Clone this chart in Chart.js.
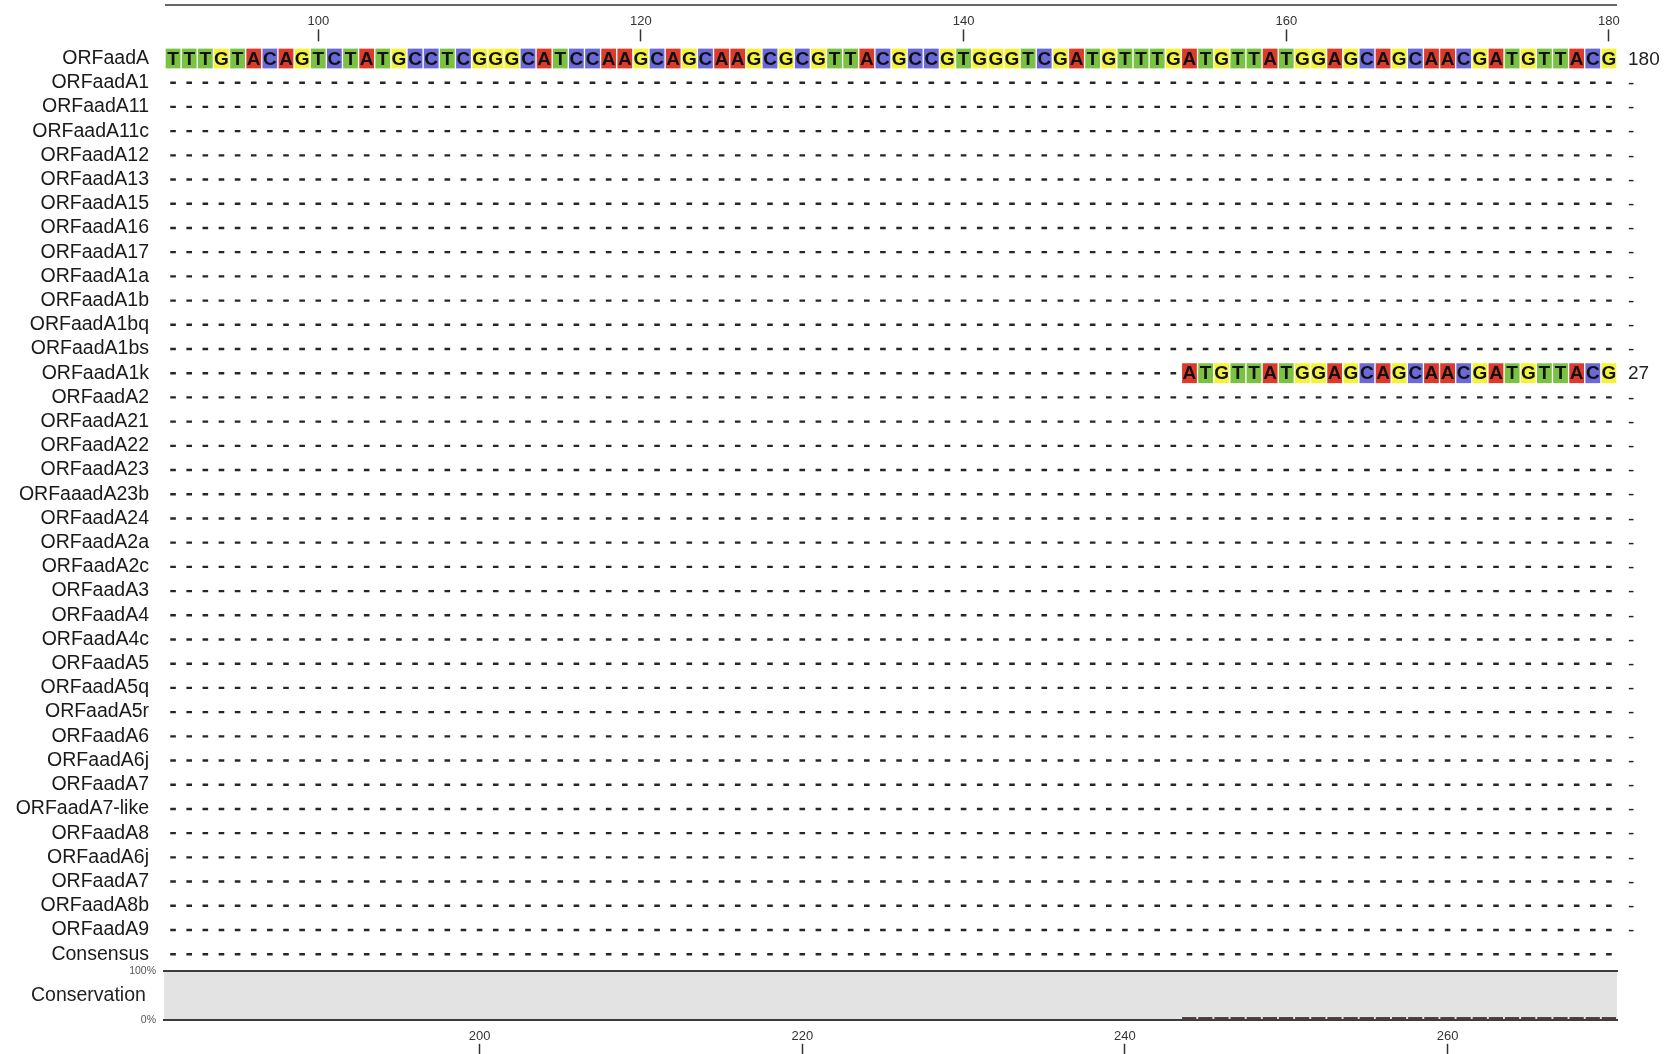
<!DOCTYPE html>
<html>
<head>
<meta charset="utf-8">
<title>ORFaadA alignment</title>
<script src="https://cdn.jsdelivr.net/npm/chart.js@4.4.1/dist/chart.umd.min.js"></script>
<style>
  body { margin: 0; background: #fff; width: 1671px; height: 1054px; overflow: hidden; position: relative; }
  canvas { position: absolute; left: 0; }
</style>
</head>
<body>
<canvas id="js--align" width="1671" height="975" style="top:0px"></canvas>
<canvas id="js--cons" width="1671" height="100" style="top:940px"></canvas>
<canvas id="js--axis" width="1671" height="80" style="top:1010px"></canvas>
<script>
// rows of the alignment, top to bottom
const rowNames = [
    "ORFaadA", "ORFaadA1", "ORFaadA11", "ORFaadA11c", "ORFaadA12", "ORFaadA13",
    "ORFaadA15", "ORFaadA16", "ORFaadA17", "ORFaadA1a", "ORFaadA1b", "ORFaadA1bq",
    "ORFaadA1bs", "ORFaadA1k", "ORFaadA2", "ORFaadA21", "ORFaadA22", "ORFaadA23",
    "ORFaaadA23b", "ORFaadA24", "ORFaadA2a", "ORFaadA2c", "ORFaadA3", "ORFaadA4",
    "ORFaadA4c", "ORFaadA5", "ORFaadA5q", "ORFaadA5r", "ORFaadA6", "ORFaadA6j",
    "ORFaadA7", "ORFaadA7-like", "ORFaadA8", "ORFaadA6j", "ORFaadA7", "ORFaadA8b",
    "ORFaadA9", "Consensus"
];

// window of the alignment shown (top ruler) and the next block (bottom ruler)
const firstPos = 91;
const lastPos = 180;
const topTicks = [100, 120, 140, 160, 180];
const bottomTicks = [200, 220, 240, 260];

// the two rows that have residues in this window
const refBases = "TTTGTACAGTCTATGCCTCGGGCATCCAAGCAGCAAGCGCGTTACGCCGTGGGTCGATGTTTGATGTTATGGAGCAGCAACGATGTTACG".split("");
const a1kBases = "ATGTTATGGAGCAGCAACGATGTTACG".split("");
const seqRows = [0, 13];
const seqStarts = [91, 154];
const seqBases = [refBases, a1kBases];

// residue number printed at the end of each row
const endNumbers = [
    "180", "-", "-", "-", "-", "-", "-", "-", "-", "-", "-", "-", "-",
    "27", "-", "-", "-", "-", "-", "-", "-", "-", "-", "-", "-", "-",
    "-", "-", "-", "-", "-", "-", "-", "-", "-", "-", "-"
];

// conservation (%) for positions 91..180
const conservation = [
    0, 0, 0, 0, 0, 0, 0, 0, 0, 0,
    0, 0, 0, 0, 0, 0, 0, 0, 0, 0,
    0, 0, 0, 0, 0, 0, 0, 0, 0, 0,
    0, 0, 0, 0, 0, 0, 0, 0, 0, 0,
    0, 0, 0, 0, 0, 0, 0, 0, 0, 0,
    0, 0, 0, 0, 0, 0, 0, 0, 0, 0,
    0, 0, 0, 6, 6, 6, 6, 6, 6, 6,
    6, 6, 6, 6, 6, 6, 6, 6, 6, 6,
    6, 6, 6, 6, 6, 6, 6, 6, 6, 6
];

Chart.defaults.font.family = "'Liberation Sans', Arial, Helvetica, sans-serif";
Chart.defaults.color = '#222';

const baseColors = { A: '#dc3b2b', C: '#6b69d8', G: '#f4f33a', T: '#7cc242' };

// cells where a row has a residue, a gap dash everywhere else
const cells = [];
const dashes = [];
for (let r = 0; r < rowNames.length; r++) {
    const s = seqRows.indexOf(r);
    for (let p = firstPos; p <= lastPos; p++) {
        if (s >= 0 && p >= seqStarts[s]) {
            cells.push({ x: [p - 0.5, p + 0.5], y: r, base: seqBases[s][p - seqStarts[s]] });
        } else {
            dashes.push({ x: p, y: r });
        }
    }
}

function rulerTicks() {
    return { autoSkip: false, maxRotation: 0, padding: 0, font: { size: 13 }, color: '#333' };
}
function rulerGrid(len) {
    return { drawOnChartArea: false, tickLength: len, tickWidth: 1.5, tickColor: '#333', tickBorderDash: [12, 20] };
}
function noPad(s) {
    s.paddingTop = 0;
    s.paddingBottom = 0;
}

const lettersPlugin = {
    id: 'letters',
    afterDatasetsDraw(chart) {
        const ctx = chart.ctx;
        const meta = chart.getDatasetMeta(0);
        const data = chart.data.datasets[0].data;
        ctx.save();
        ctx.textAlign = 'center';
        ctx.textBaseline = 'middle';
        ctx.fillStyle = '#111';
        ctx.font = "bold 19px 'Liberation Sans', Arial, sans-serif";
        meta.data.forEach(function (bar, i) {
            const c = bar.getCenterPoint();
            ctx.fillText(data[i].base, c.x, c.y + 1);
        });

        const xs = chart.scales.x;
        const ys = chart.scales.y;
        ctx.textAlign = 'left';
        ctx.fillStyle = '#222';
        ctx.font = "19px 'Liberation Sans', Arial, sans-serif";
        endNumbers.forEach(function (txt, r) {
            ctx.fillText(txt, xs.getPixelForValue(lastPos + 0.5) + 11, ys.getPixelForValue(r) + 1);
        });
        ctx.restore();
    }
};

const topRule = {
    id: 'topRule',
    afterDraw(chart) {
        const { ctx, chartArea } = chart;
        ctx.save();
        ctx.strokeStyle = '#333';
        ctx.lineWidth = 1.5;
        ctx.beginPath();
        ctx.moveTo(chartArea.left, 5);
        ctx.lineTo(chartArea.right, 5);
        ctx.stroke();
        ctx.restore();
    }
};

const grayArea = {
    id: 'grayArea',
    beforeDraw(chart) {
        const { ctx, chartArea } = chart;
        ctx.save();
        ctx.fillStyle = '#e3e3e3';
        ctx.fillRect(chartArea.left, chartArea.top, chartArea.right - chartArea.left, chartArea.bottom - chartArea.top);
        ctx.restore();
    }
};

// alignment
const alignChart = new Chart(document.getElementById('js--align'), {
    type: 'bar',
    data: {
        datasets: [
            {
                data: cells,
                backgroundColor: cells.map(c => baseColors[c.base]),
                borderColor: 'rgba(255,255,255,0.75)',
                borderWidth: { left: 1, right: 1, top: 0, bottom: 0 },
                borderSkipped: false,
                barThickness: 20
            },
            {
                type: 'scatter',
                data: dashes,
                pointStyle: 'line',
                radius: 2.8,
                borderWidth: 2.4,
                borderColor: '#262626'
            }
        ]
    },
    options: {
        indexAxis: 'y',
        responsive: false,
        animation: false,
        events: [],
        layout: { padding: { top: 13.8, right: 54, bottom: 8.7, left: 0 } },
        plugins: { legend: { display: false }, tooltip: { enabled: false } },
        scales: {
            x: {
                type: 'linear',
                position: 'top',
                offset: false,
                min: firstPos - 0.5,
                max: lastPos + 0.5,
                afterBuildTicks: s => { s.ticks = topTicks.map(v => ({ value: v })); },
                ticks: rulerTicks(),
                grid: rulerGrid(17),
                border: { display: false }
            },
            y: {
                type: 'linear',
                reverse: true,
                offset: false,
                min: -0.5,
                max: rowNames.length - 0.5,
                afterBuildTicks: s => { s.ticks = rowNames.map((n, i) => ({ value: i })); },
                afterFit: s => { s.width = 165; noPad(s); },
                ticks: {
                    autoSkip: false,
                    padding: 16,
                    font: { size: 19.5 },
                    color: '#1a1a1a',
                    callback: v => rowNames[v]
                },
                grid: { display: false, drawTicks: false, offset: false },
                border: { display: false }
            }
        }
    },
    plugins: [lettersPlugin, topRule]
});

// conservation graph
const consChart = new Chart(document.getElementById('js--cons'), {
    type: 'bar',
    data: {
        datasets: [{
            data: conservation.map((v, i) => ({ x: firstPos + i, y: v })),
            backgroundColor: '#4a3b3b',
            barPercentage: 0.88,
            categoryPercentage: 1
        }]
    },
    options: {
        responsive: false,
        animation: false,
        events: [],
        layout: { padding: { top: 31, right: 54, bottom: 20, left: 0 } },
        plugins: { legend: { display: false }, tooltip: { enabled: false } },
        scales: {
            x: {
                type: 'linear',
                position: 'bottom',
                offset: false,
                min: firstPos - 0.5,
                max: lastPos + 0.5,
                ticks: { display: false },
                grid: { display: false, drawTicks: false, offset: false },
                border: { display: true, color: '#3c3c3c', width: 2 }
            },
            xTop: {
                type: 'linear',
                position: 'top',
                min: 0,
                max: 1,
                ticks: { display: false },
                grid: { display: false, drawTicks: false },
                border: { display: true, color: '#3c3c3c', width: 2 }
            },
            y: {
                min: 0,
                max: 100,
                afterBuildTicks: s => { s.ticks = [{ value: 0 }, { value: 100 }]; },
                afterFit: s => { s.width = 133; noPad(s); },
                ticks: { padding: 8, font: { size: 10.5 }, color: '#555', callback: v => v + '%' },
                grid: { display: false, drawTicks: false },
                border: { display: false }
            },
            yLabel: {
                type: 'category',
                labels: ['Conservation'],
                position: 'left',
                weight: 1,
                offset: true,
                afterFit: s => { s.width = 31; noPad(s); },
                ticks: { mirror: true, padding: 0, font: { size: 19.5 }, color: '#222' },
                grid: { display: false, drawTicks: false },
                border: { display: false }
            }
        }
    },
    plugins: [grayArea]
});

// ruler of the next block
const axisChart = new Chart(document.getElementById('js--axis'), {
    type: 'scatter',
    data: { datasets: [] },
    options: {
        responsive: false,
        animation: false,
        events: [],
        layout: { padding: { top: 18.2, right: 54, bottom: 0, left: 165 } },
        plugins: { legend: { display: false }, tooltip: { enabled: false } },
        scales: {
            x: {
                type: 'linear',
                position: 'top',
                min: lastPos + 0.5,
                max: lastPos + 90.5,
                afterBuildTicks: s => { s.ticks = bottomTicks.map(v => ({ value: v })); },
                ticks: rulerTicks(),
                grid: rulerGrid(15),
                border: { display: false }
            },
            y: { display: false }
        }
    }
});
</script>
</body>
</html>
